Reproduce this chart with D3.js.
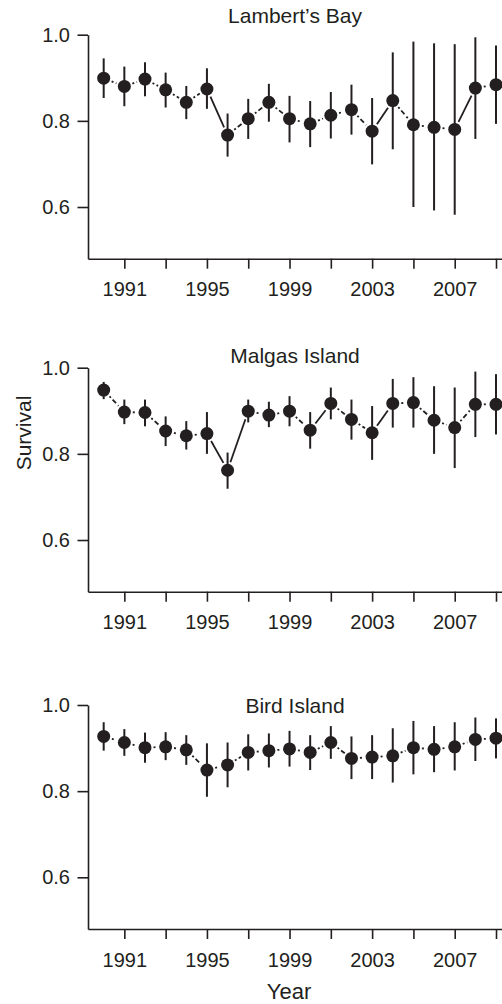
<!DOCTYPE html>
<html>
<head>
<meta charset="utf-8">
<script src="https://cdn.jsdelivr.net/npm/d3@7"></script>
<style>
  html, body { margin: 0; padding: 0; background: #fff; }
  svg { display: block; }
  text { font-family: "Liberation Sans", Arial, Helvetica, sans-serif; fill: #231f20; }
</style>
</head>
<body>
<svg id="chart" width="502" height="1004"></svg>
<script>
// ---- data ----
const years = [1990,1991,1992,1993,1994,1995,1996,1997,1998,1999,2000,2001,2002,2003,2004,2005,2006,2007,2008,2009];
const xTickValues = [1991,1993,1995,1997,1999,2001,2003,2005,2007,2009];
const xTickLabels = [1991,1995,1999,2003,2007];
const yTickValues = [0.6,0.8,1.0];

const panelTitles = ["Lambert\u2019s Bay", "Malgas Island", "Bird Island"];

const lambertMean = [0.899,0.880,0.897,0.872,0.843,0.874,0.767,0.805,0.843,0.805,0.793,0.813,0.826,0.776,0.847,0.791,0.785,0.780,0.876,0.884];
const lambertLow  = [0.853,0.834,0.857,0.831,0.804,0.828,0.717,0.758,0.798,0.750,0.739,0.759,0.768,0.699,0.734,0.600,0.592,0.582,0.758,0.793];
const lambertHigh = [0.945,0.926,0.936,0.912,0.881,0.922,0.817,0.851,0.886,0.858,0.846,0.867,0.884,0.853,0.959,0.984,0.980,0.978,0.994,0.975];

const malgasMean = [0.948,0.897,0.896,0.853,0.842,0.847,0.762,0.899,0.890,0.899,0.855,0.917,0.880,0.849,0.917,0.919,0.878,0.861,0.915,0.915];
const malgasLow  = [0.927,0.869,0.864,0.818,0.810,0.800,0.719,0.873,0.862,0.864,0.812,0.880,0.833,0.786,0.861,0.861,0.800,0.767,0.839,0.845];
const malgasHigh = [0.967,0.926,0.926,0.887,0.876,0.897,0.803,0.926,0.921,0.934,0.897,0.954,0.926,0.911,0.974,0.978,0.957,0.954,0.991,0.985];

const birdMean = [0.927,0.913,0.901,0.903,0.896,0.849,0.861,0.890,0.894,0.898,0.890,0.913,0.876,0.879,0.882,0.901,0.897,0.903,0.920,0.923];
const birdLow  = [0.894,0.882,0.866,0.872,0.861,0.787,0.809,0.848,0.855,0.857,0.849,0.875,0.828,0.828,0.820,0.839,0.844,0.848,0.870,0.876];
const birdHigh = [0.960,0.944,0.936,0.937,0.930,0.911,0.913,0.932,0.934,0.940,0.930,0.951,0.927,0.930,0.946,0.963,0.951,0.960,0.971,0.969];

// ---- layout ----
const ink = "#231f20";
const svg = d3.select("#chart");
const left = 88, right = 511.7;
const panelTops = [34.7, 367.7, 705];
const panelHeight = 224;
const titleBaselines = [23, 362.5, 713];
const titleX = 295;
const r = 6.5;

const x = d3.scaleLinear().domain([1989.24, 2009.76]).range([left, right]);

const panels = [
  {title: panelTitles[0], mean: lambertMean, lo: lambertLow, hi: lambertHigh},
  {title: panelTitles[1], mean: malgasMean, lo: malgasLow, hi: malgasHigh},
  {title: panelTitles[2], mean: birdMean, lo: birdLow, hi: birdHigh}
];

panels.forEach((p, i) => {
  const top = panelTops[i], bottom = top + panelHeight;
  const y = d3.scaleLinear().domain([0.48, 1.0]).range([bottom, top]);
  const g = svg.append("g");

  // axes
  const xAxis = d3.axisBottom(x).tickValues(xTickValues)
    .tickFormat(d => xTickLabels.includes(d) ? String(d) : "")
    .tickSize(10).tickSizeOuter(0).tickPadding(13.5);
  const gx = g.append("g").attr("transform", `translate(0,${bottom})`).call(xAxis);
  const yAxis = d3.axisLeft(y).tickValues(yTickValues).tickFormat(d3.format(".1f"))
    .tickSize(10.5).tickSizeOuter(0).tickPadding(7.5);
  const gy = g.append("g").attr("transform", `translate(${left},0)`).call(yAxis);
  [gx, gy].forEach(a => {
    a.select(".domain").attr("stroke", ink).attr("stroke-width", 1.6);
    a.selectAll(".tick line").attr("stroke", ink).attr("stroke-width", 1.6);
    a.selectAll(".tick text").attr("fill", ink).style("font-size", "20px")
      .style("font-family", '"Liberation Sans", Arial, sans-serif');
  });

  // title
  g.append("text").attr("x", titleX).attr("y", titleBaselines[i])
    .attr("text-anchor", "middle").style("font-size", "21px").text(p.title);

  const pts = years.map((yr, k) => ({yr, m: p.mean[k], lo: p.lo[k], hi: p.hi[k]}));

  // connecting segments with gaps around points
  const segs = d3.pairs(pts);
  g.selectAll("line.seg").data(segs).join("line")
    .each(function([a, b]) {
      const x1 = x(a.yr), y1 = y(a.m), x2 = x(b.yr), y2 = y(b.m);
      const L = Math.hypot(x2 - x1, y2 - y1);
      const gap = r + 2;
      const ux = (x2 - x1) / L, uy = (y2 - y1) / L;
      const vis = L - 2 * gap;
      d3.select(this)
        .attr("x1", x1 + ux * gap).attr("y1", y1 + uy * gap)
        .attr("x2", x2 - ux * gap).attr("y2", y2 - uy * gap)
        .attr("stroke", ink).attr("stroke-width", 1.8)
        .attr("stroke-dasharray", vis > 16 ? null : "2,2.5,5,3");
    });

  // error bars
  g.selectAll("line.err").data(pts).join("line")
    .attr("x1", d => x(d.yr)).attr("x2", d => x(d.yr))
    .attr("y1", d => y(d.lo)).attr("y2", d => y(d.hi))
    .attr("stroke", ink).attr("stroke-width", 2);

  // points
  g.selectAll("circle").data(pts).join("circle")
    .attr("cx", d => x(d.yr)).attr("cy", d => y(d.m)).attr("r", r)
    .attr("fill", ink);
});

// axis titles
svg.append("text").attr("transform", "translate(31,433) rotate(-90)")
  .attr("text-anchor", "middle").style("font-size", "21px").text("Survival");
svg.append("text").attr("x", 289).attr("y", 999)
  .attr("text-anchor", "middle").style("font-size", "22px").text("Year");
</script>
</body>
</html>
